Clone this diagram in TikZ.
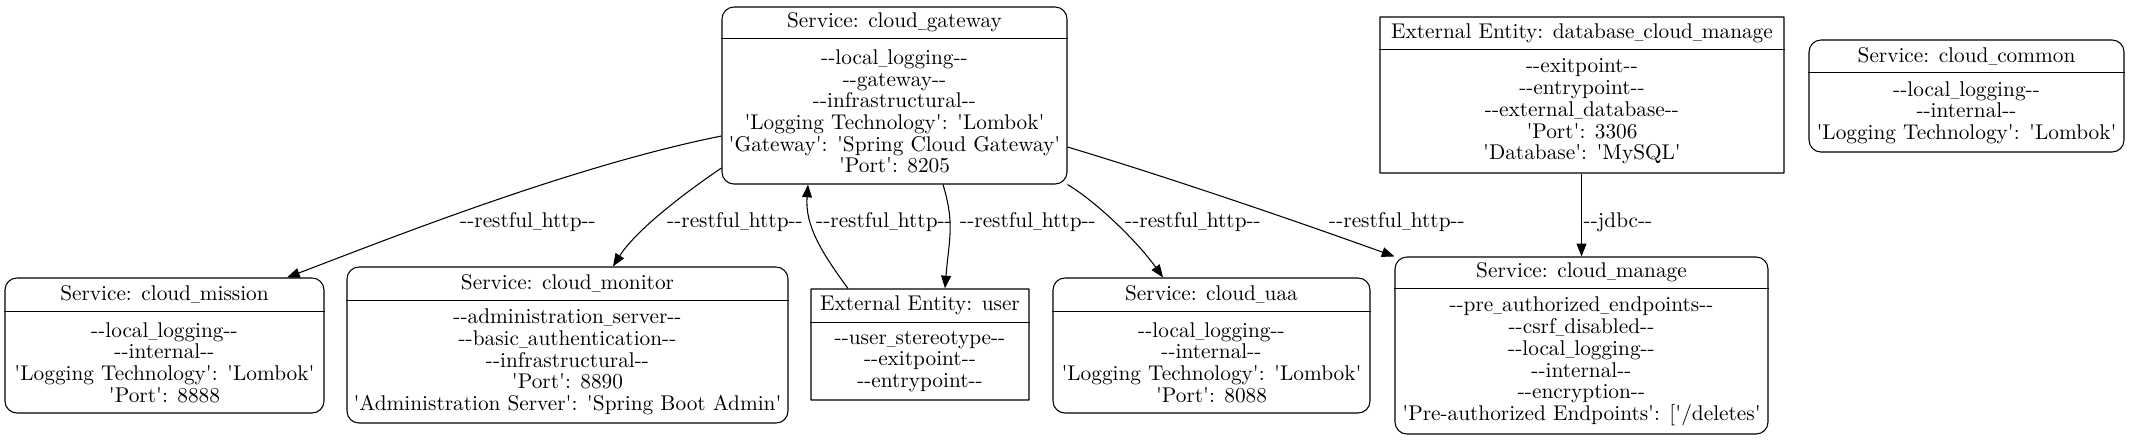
\documentclass[tikz,border=0pt]{standalone}
\usepackage{graphicx}
\usetikzlibrary{arrows.meta,calc}
\newdimen\px \px=0.4695pt
\newcommand\dsh{-\kern0pt-}
\newcommand\sq{\textquotesingle}
\newcommand\us{\scalebox{0.55}[1]{\_}}
\tikzset{
  box/.style={draw, line width=0.5pt, inner sep=0pt},
  svc/.style={box, rounded corners=5.6pt},
  ext/.style={box, rounded corners=0.05pt},
  sep/.style={line width=0.5pt},
  txt/.style={inner sep=0pt, align=center, font=\fontsize{10}{10.19}\selectfont},
  lbl/.style={inner sep=0pt, font=\fontsize{10}{10.19}\selectfont},
  arr/.style={-{Triangle[length=6pt,width=4.6pt]}, line width=0.5pt},
}
\newcommand\mkbox[7]{%
  \node[#1, minimum width=#4\px, minimum height=#5\px] (#2) at #3 {};
  \draw[sep] ($(#2.north west)+(0,#6)$) -- ($(#2.north east)+(0,#6)$);
  \node[txt] (#2-h) at ($(#2.north)+(0,#6/2)$) {#7};}
\begin{document}
\begin{tikzpicture}[x=0.4695pt, y=-0.4695pt]
\fill[white] (0,0) rectangle (2131,440);
\useasboundingbox (0,0) rectangle (2131,440);

% boxes
\mkbox{svc}{gw}{(894.5,95.5)}{345}{177}{32}{Service: cloud\us gateway}
\node[txt] (gw-b) at (894.5,111.5) {\dsh local\us logging\dsh\\\dsh gateway\dsh\\\dsh infrastructural\dsh\\\sq Logging Technology\sq: \sq Lombok\sq\\\sq Gateway\sq: \sq Spring Cloud Gateway\sq\\\sq Port\sq: 8205};

\mkbox{ext}{db}{(1582,95)}{404}{156}{33}{External Entity: database\us cloud\us manage}
\node[txt] (db-b) at (1582,111.5) {\dsh exitpoint\dsh\\\dsh entrypoint\dsh\\\dsh external\us database\dsh\\\sq Port\sq: 3306\\\sq Database\sq: \sq MySQL\sq};

\mkbox{svc}{cc}{(1966.5,96)}{315}{112}{33}{Service: cloud\us common}
\node[txt] (cc-b) at (1966.5,112.5) {\dsh local\us logging\dsh\\\dsh internal\dsh\\\sq Logging Technology\sq: \sq Lombok\sq};

\mkbox{svc}{mi}{(164.5,345.5)}{319}{135}{34}{Service: cloud\us mission}
\node[txt] (mi-b) at (164.5,362.5) {\dsh local\us logging\dsh\\\dsh internal\dsh\\\sq Logging Technology\sq: \sq Lombok\sq\\\sq Port\sq: 8888};

\mkbox{svc}{mo}{(567.5,345)}{441}{156}{34}{Service: cloud\us monitor}
\node[txt] (mo-b) at (567.5,362) {\dsh administration\us server\dsh\\\dsh basic\us authentication\dsh\\\dsh infrastructural\dsh\\\sq Port\sq: 8890\\\sq Administration Server\sq: \sq Spring Boot Admin\sq};

\mkbox{ext}{us}{(920,344.5)}{218}{111}{34}{External Entity: user}
\node[txt] (us-b) at (920,361.5) {\dsh user\us stereotype\dsh\\\dsh exitpoint\dsh\\\dsh entrypoint\dsh};

\mkbox{svc}{ua}{(1211.5,345.5)}{317}{135}{34}{Service: cloud\us uaa}
\node[txt] (ua-b) at (1211.5,362.5) {\dsh local\us logging\dsh\\\dsh internal\dsh\\\sq Logging Technology\sq: \sq Lombok\sq\\\sq Port\sq: 8088};

\mkbox{svc}{ma}{(1581.5,345.5)}{373}{177}{32}{Service: cloud\us manage}
\node[txt] (ma-b) at (1581.5,361.5) {\dsh pre\us authorized\us endpoints\dsh\\\dsh csrf\us disabled\dsh\\\dsh local\us logging\dsh\\\dsh internal\dsh\\\dsh encryption\dsh\\\sq Pre-authorized Endpoints\sq: [\sq/deletes\sq};

% connectors
\draw[arr] ($(gw.west)+(0,40.5)$) .. controls +(-150,30) and +(100,-38) .. ($(mi.north)+(122.5,0)$);
\draw[arr] ($(gw.west)+(0,72.5)$) .. controls +(-40,27) and +(22,-35) .. ($(mo.north)+(45.5,0)$);
\draw[arr] ($(us.north)+(-72,0)$) .. controls +(-28,-38) and +(-3,40) .. ($(gw.south)+(-86.5,0)$);
\draw[arr] ($(gw.south)+(48.5,0)$) .. controls +(12,40) and +(4,-50) .. ($(us.north)+(25,0)$);
\draw[arr] (gw.south east) .. controls +(30,18) and +(-25,-35) .. ($(ua.north)+(-48.5,0)$);
\draw[arr] ($(gw.east)+(0,51.5)$) .. controls +(100,30) and +(-100,-36) .. (ma.north west);
\coordinate (jd) at ($(db.south)+(-0.5,0)$);
\draw[arr] (jd) -- (jd |- ma.north);

% labels
\node[lbl] (l1) at (528,222) {\dsh restful\us http\dsh};
\node[lbl] (l2) at (735,222) {\dsh restful\us http\dsh};
\node[lbl] (l3) at (884,222) {\dsh restful\us http\dsh};
\node[lbl] (l4) at (1028,222) {\dsh restful\us http\dsh};
\node[lbl] (l5) at (1193,222) {\dsh restful\us http\dsh};
\node[lbl] (l6) at (1397,222) {\dsh restful\us http\dsh};
\node[lbl] (l7) at (1618,222) {\dsh jdbc\dsh};
\end{tikzpicture}
\end{document}
